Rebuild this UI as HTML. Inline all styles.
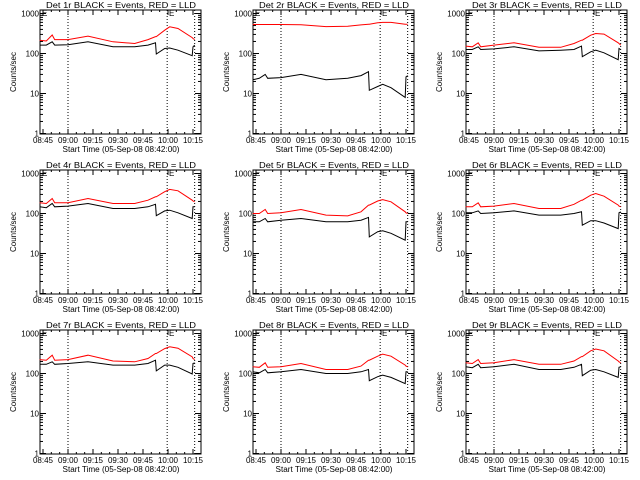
<!DOCTYPE html>
<html><head><meta charset="utf-8"><style>
body{margin:0;background:#fff;width:640px;height:480px;overflow:hidden}
svg{display:block}
text{font-family:"Liberation Sans",sans-serif;fill:#000}
</style></head><body>
<svg id="c" width="640" height="480"></svg>
<script>
const times = [1,5,8.5,10,18,30,45,58,66,70.5,71,76,79,84,92.5,93,94];
const detectors = ["1r","2r","3r","4r","5r","6r","7r","8r","9r"];
const red1=[215,205,290,222,222,272,196,178,222,265,265,383,464,422,250,237,222];
const blk1=[162,162,196,162,166,196,147,147,162,185,97,133,137,121,88,147,162];
const red2=[530,530,530,530,530,525,470,480,520,540,540,590,600,600,540,540,540];
const blk2=[22,24,30,24,25,30,22,24,28,35,12,15,17,14,8,26,28];
const red3=[153,147,185,147,162,185,143,143,178,215,215,287,316,305,185,178,162];
const blk3=[126,126,147,126,130,147,116,121,126,153,83,110,121,104,70,133,126];
const red4=[185,178,237,185,185,237,178,178,215,261,261,350,400,370,215,205,196];
const blk4=[147,140,178,147,153,178,133,133,147,170,88,116,121,104,75,147,147];
const red5=[100,100,126,100,104,126,91,87,110,162,162,205,222,196,110,104,100];
const blk5=[62,62,75,62,68,75,62,62,68,80,26,35,37,32,21.5,62,62];
const red6=[147,147,185,147,153,178,133,133,170,215,215,287,316,270,162,153,147];
const blk6=[104,104,116,100,104,116,91,91,100,110,51,66,66,58,42,104,110];
const red7=[222,215,287,215,222,287,205,196,237,316,316,420,464,430,261,237,222];
const blk7=[170,170,196,170,178,196,162,162,178,215,116,162,162,143,97,178,185];
const red8=[147,143,185,143,147,178,126,126,153,215,215,270,305,270,162,153,147];
const blk8=[110,104,126,104,110,126,100,100,110,126,66,83,91,80,56,110,110];
const red9=[185,178,222,178,185,222,170,170,205,265,265,370,410,370,205,196,185];
const blk9=[147,140,170,140,147,170,126,126,143,170,88,121,126,110,80,143,147];
const redSeries=[red1,red2,red3,red4,red5,red6,red7,red8,red9];
const blackSeries=[blk1,blk2,blk3,blk4,blk5,blk6,blk7,blk8,blk9];
const xTickMinutes=[3,18,33,48,63,78,93];
const xTickLabels=["08:45","09:00","09:15","09:30","09:45","10:00","10:15"];
const yTicks=[1,10,100,1000];
const dottedMinutes=[18,77.5,94];
const eMarkMinutes=[2.4,78.6];

const NS="http://www.w3.org/2000/svg";
const svg=document.getElementById('c');
function mk(tag,attrs,parent){const e=document.createElementNS(NS,tag);for(const k in attrs)e.setAttribute(k,attrs[k]);(parent||svg).appendChild(e);return e;}
const L=40,R=201,T=10,B=134;
function xs(m){return 38+m*5/3;}
function ys(v){return 133.5-40*Math.log10(v);}

detectors.forEach((d,i)=>{
  const ox=(i%3)*213, oy=Math.floor(i/3)*160;
  const g=mk('g',{transform:`translate(${ox},${oy})`});
  
  
  const t=mk('text',{x:121,y:8,'font-size':8.5,'text-anchor':'middle',textLength:150,lengthAdjust:'spacingAndGlyphs'},g);
  t.textContent=`Det ${d} BLACK = Events, RED = LLD`;
  
  
  const box=mk('rect',{x:L,y:T,width:R-L,height:B-T,fill:'none',stroke:'#000','stroke-width':1},g);
  
  
  yTicks.forEach(v=>{
    const y=ys(v);
    mk('line',{x1:L,x2:L+6,y1:y,y2:y,stroke:'#000'},g);
    mk('line',{x1:R-6,x2:R,y1:y,y2:y,stroke:'#000'},g);
    const lb=mk('text',{x:L-1,y:y+3,'font-size':8,'text-anchor':'end'},g);
    lb.textContent=String(v);
    
    
    if(v<1000){for(let k=2;k<10;k++){const yy=ys(v*k);if(yy<T)continue;
      mk('line',{x1:L,x2:L+3,y1:yy,y2:yy,stroke:'#000'},g);
      mk('line',{x1:R-3,x2:R,y1:yy,y2:yy,stroke:'#000'},g);}}
  });
  const yl=mk('text',{x:0,y:0,'font-size':8,'text-anchor':'middle',transform:'translate(16,72) rotate(-90)'},g);
  yl.textContent='Counts/sec';
  
  
  for(let m=3;m<=96;m+=5){const x=xs(m);if(x<L||x>R)continue;
    mk('line',{x1:x,x2:x,y1:B,y2:B-2,stroke:'#000'},g);mk('line',{x1:x,x2:x,y1:T,y2:T+2,stroke:'#000'},g);}
  xTickMinutes.forEach((m,j)=>{const x=xs(m);
    mk('line',{x1:x,x2:x,y1:B,y2:B-5,stroke:'#000'},g);mk('line',{x1:x,x2:x,y1:T,y2:T+5,stroke:'#000'},g);
    const lb=mk('text',{x:x,y:B+9,'font-size':8,'text-anchor':'middle'},g);
    lb.textContent=xTickLabels[j];
    
    
  });
  const xl=mk('text',{x:121,y:B+18,'font-size':8,'text-anchor':'middle',textLength:117,lengthAdjust:'spacingAndGlyphs'},g);
  xl.textContent='Start Time (05-Sep-08 08:42:00)';
  
  
  dottedMinutes.forEach(m=>{const x=xs(m);
    const dl=mk('line',{x1:x,x2:x,y1:T,y2:B,stroke:'#000','stroke-dasharray':'1,2'},g);
    
    });
  eMarkMinutes.forEach(m=>{const e=mk('text',{x:xs(m),y:T+6,'font-size':8},g);e.textContent='E';
    
    });
  const pts=a=>a.map((v,j)=>xs(times[j]).toFixed(1)+','+ys(v).toFixed(1)).join(' ');
  const rl=mk('polyline',{points:pts(redSeries[i]),fill:'none',stroke:'#f00','stroke-width':1},g);
  
  
  const bl=mk('polyline',{points:pts(blackSeries[i]),fill:'none',stroke:'#000','stroke-width':1},g);
  
  
});
</script>
</body></html>
